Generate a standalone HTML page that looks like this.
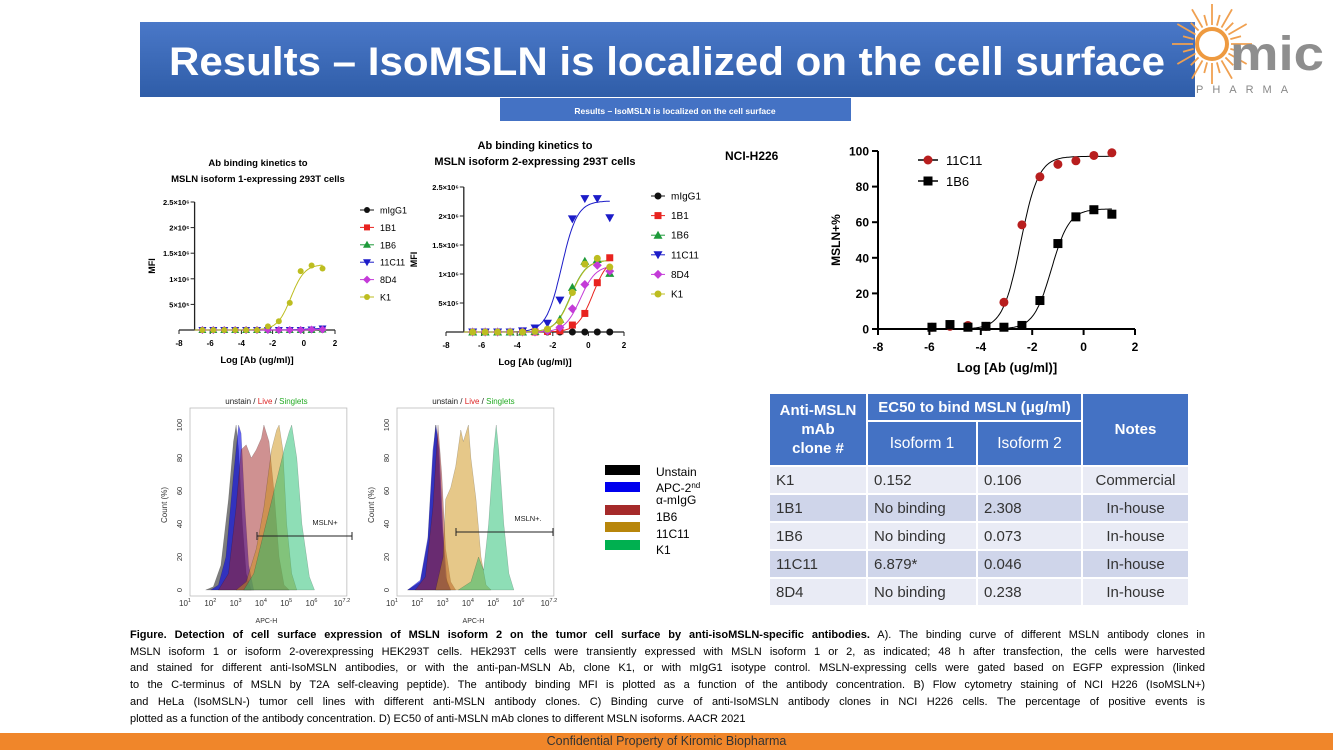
<!DOCTYPE html>
<html><head><meta charset="utf-8">
<style>
body{margin:0;width:1333px;height:750px;overflow:hidden;background:#fff;font-family:"Liberation Sans",sans-serif;position:relative}
#page{position:absolute;left:0;top:0}
.caption{position:absolute;left:130px;top:627px;width:1075px;font-size:11px;line-height:16.7px;color:#000}
.caption div{text-align:justify;text-align-last:justify;white-space:nowrap;overflow:visible}
.caption div.last{text-align-last:left}
table.t{position:absolute;left:768px;top:392px;width:422px;height:215px;border-collapse:collapse;font-size:15px;color:#333}
table.t td{border:2px solid #fff;padding:0 6px}
table.t .h{background:#4472C4;color:#fff;font-weight:bold;text-align:center;font-size:15px}
table.t .h2{background:#4472C4;color:#fff;text-align:center;font-size:15.5px}
table.t tr.a td{background:#E9EBF5}
table.t tr.b td{background:#CFD5EA}
.footer{position:absolute;left:0;top:733px;width:1333px;height:17px;background:#F0862A;text-align:center;font-size:12.5px;line-height:17px;color:#333}
</style></head><body>
<svg id="page" width="1333" height="750" xmlns="http://www.w3.org/2000/svg" font-family="Liberation Sans, sans-serif">
  <defs><linearGradient id="bg" x1="0" x2="0" y1="0" y2="1"><stop offset="0" stop-color="#4A78C8"/><stop offset="1" stop-color="#2F5DA8"/></linearGradient></defs>
  <rect x="140" y="22" width="1055" height="75" fill="url(#bg)"/>
  <text x="667" y="75" text-anchor="middle" font-size="40" font-weight="bold" fill="#fff" textLength="996" lengthAdjust="spacingAndGlyphs">Results – IsoMSLN is localized on the cell surface</text>
  <g>
    <g id="sun" stroke="#F0A050" stroke-width="1.8"></g>
    <circle cx="1212" cy="44" r="15" fill="none" stroke="#EE9A40" stroke-width="4"/>
    <text x="1230" y="70" font-size="48" font-weight="bold" fill="#8E8E8E" textLength="94" lengthAdjust="spacingAndGlyphs">mic</text>
    <text x="1196" y="93" font-size="11" fill="#888" letter-spacing="9">PHARMA</text>
  </g>
  <rect x="500" y="98" width="351" height="23" fill="#4472C4"/>
  <text x="675" y="114" text-anchor="middle" font-size="8.5" font-weight="bold" fill="#fff">Results – IsoMSLN is localized on the cell surface</text>

  <g id="chartA1"></g>
  <g id="chartA2"></g>
  <g id="chartC"></g>
  <g id="histo"></g>
</svg>

<table class="t">
<tr style="height:28px"><td class="h" rowspan="2" style="width:84px;line-height:19px">Anti-MSLN<br>mAb<br>clone #</td><td class="h" colspan="2">EC50 to bind MSLN (μg/ml)</td><td class="h" rowspan="2">Notes</td></tr>
<tr style="height:45px"><td class="h2" style="width:96px">Isoform 1</td><td class="h2" style="width:91px">Isoform 2</td></tr>
<tr class="a"><td>K1</td><td>0.152</td><td>0.106</td><td style="text-align:center">Commercial</td></tr>
<tr class="b"><td>1B1</td><td>No binding</td><td>2.308</td><td style="text-align:center">In-house</td></tr>
<tr class="a"><td>1B6</td><td>No binding</td><td>0.073</td><td style="text-align:center">In-house</td></tr>
<tr class="b"><td>11C11</td><td>6.879*</td><td>0.046</td><td style="text-align:center">In-house</td></tr>
<tr class="a"><td>8D4</td><td>No binding</td><td>0.238</td><td style="text-align:center">In-house</td></tr>
</table>

<div class="caption">
<div><b>Figure. Detection of cell surface expression of MSLN isoform 2 on the tumor cell surface by anti-isoMSLN-specific antibodies.</b> A). The binding curve of different MSLN antibody clones in</div>
<div>MSLN isoform 1 or isoform 2-overexpressing HEK293T cells. HEk293T cells were transiently expressed with MSLN isoform 1 or 2, as indicated; 48 h after transfection, the cells were harvested</div>
<div>and stained for different anti-IsoMSLN antibodies, or with the anti-pan-MSLN Ab, clone K1, or with mIgG1 isotype control. MSLN-expressing cells were gated based on EGFP expression (linked</div>
<div>to the C-terminus of MSLN by T2A self-cleaving peptide). The antibody binding MFI is plotted as a function of the antibody concentration. B) Flow cytometry staining of NCI H226 (IsoMSLN+)</div>
<div>and HeLa (IsoMSLN-) tumor cell lines with different anti-MSLN antibody clones. C) Binding curve of anti-IsoMSLN antibody clones in NCI H226 cells. The percentage of positive events is</div>
<div class="last">plotted as a function of the antibody concentration. D) EC50 of anti-MSLN mAb clones to different MSLN isoforms. AACR 2021</div>
</div>
<div class="footer">Confidential Property of Kiromic Biopharma</div>

<script>
// ---------- data ----------
const seriesNames = ["mIgG1","1B1","1B6","11C11","8D4","K1"];
const xLog = [-6.5,-5.8,-5.1,-4.4,-3.7,-3.0,-2.3,-1.6,-0.9,-0.2,0.5,1.2];
// isoform 1 MFI values (x1e6)
const iso1_mIgG1 = [0,0,0,0,0,0,0,0,0,0,0,0];
const iso1_1B1   = [0,0,0,0,0,0,0,0,0,0,0,0.01];
const iso1_1B6   = [0,0,0,0,0,0,0,0,0,0,0,0.01];
const iso1_11C11 = [0,0,0,0,0,0,0,0,0,0,0.01,0.03];
const iso1_8D4   = [0,0,0,0,0,0,0,0,0,0,0.01,0.01];
const iso1_K1    = [0,0,0,0,0,0,0.07,0.17,0.53,1.15,1.26,1.2];
// isoform 2 MFI values (x1e6)
const iso2_mIgG1 = [0,0,0,0,0,0,0,0,0,0,0,0];
const iso2_1B1   = [0,0,0,0,0,0,0.01,0.02,0.12,0.32,0.85,1.28];
const iso2_1B6   = [0,0,0,0,0,0.01,0.05,0.22,0.77,1.22,1.25,1.01];
const iso2_11C11 = [0,0,0,0,0.02,0.07,0.15,0.55,1.95,2.3,2.3,1.97];
const iso2_8D4   = [0,0,0,0,0,0,0.02,0.08,0.4,0.82,1.15,1.05];
const iso2_K1    = [0,0,0,0,0,0.01,0.05,0.18,0.68,1.17,1.27,1.12];
// fitted curve params: top, logEC50
const iso1_top = [0,0.01,0.01,0.03,0.01,1.28];
const iso1_ec50 = [0,0,0,0,0,-0.82];
const iso2_top = [0,1.3,1.24,2.26,1.15,1.24];
const iso2_ec50 = [0,0.25,-1.0,-1.5,-0.45,-0.98];
// NCI-H226
const cNames = ["11C11","1B6"];
const cX = [-5.9,-5.2,-4.5,-3.8,-3.1,-2.4,-1.7,-1.0,-0.3,0.4,1.1];
const c11C11 = [1,1.5,2,1.5,15,58.5,85.5,92.5,94.5,97.5,99];
const c1B6 = [1,2.5,1,1.5,1,2,16,48,63,67,64.5];
const cTop = [97,67.5];
const cEc50 = [-2.45,-1.25];
const yTicksMFI = ["5×10⁵","1×10⁶","1.5×10⁶","2×10⁶","2.5×10⁶"];
const xTicks = [-8,-6,-4,-2,0,2];
const cYTicks = [0,20,40,60,80,100];
// flow histograms [log10 x, % count]
const h1_unstain=[[1.7,0],[2.0,2],[2.3,15],[2.6,55],[2.8,90],[2.9,100],[3.0,85],[3.15,40],[3.3,10],[3.5,0]];
const h1_blue=[[1.9,0],[2.2,3],[2.5,20],[2.8,70],[3.0,100],[3.1,95],[3.25,50],[3.4,15],[3.6,0]];
const h1_1B6=[[2.2,0],[2.6,10],[2.9,50],[3.1,85],[3.3,88],[3.5,80],[3.7,85],[3.9,92],[4.0,100],[4.2,90],[4.4,60],[4.6,20],[4.8,3],[5.0,0]];
const h1_11C11=[[2.9,0],[3.3,5],[3.7,25],[4.0,50],[4.3,85],[4.5,97],[4.6,100],[4.75,85],[4.9,40],[5.1,10],[5.3,0]];
const h1_K1=[[3.2,0],[3.6,10],[4.0,35],[4.4,60],[4.8,85],[5.0,96],[5.1,100],[5.3,80],[5.5,40],[5.8,8],[6.0,0]];
const h2_unstain=[[1.5,0],[2.0,5],[2.3,30],[2.5,80],[2.6,100],[2.7,90],[2.85,40],[3.0,8],[3.2,0]];
const h2_blue=[[1.5,0],[2.0,6],[2.3,32],[2.5,85],[2.62,100],[2.75,85],[2.9,35],[3.05,5],[3.2,0]];
const h2_1B6=[[1.8,0],[2.2,8],[2.5,50],[2.7,100],[2.85,70],[3.0,25],[3.2,5],[3.4,0]];
const h2_11C11=[[2.6,0],[2.9,20],[3.0,55],[3.2,62],[3.4,75],[3.6,97],[3.7,90],[3.9,100],[4.0,80],[4.2,55],[4.4,20],[4.6,3],[4.8,0]];
const h2_K1=[[3.5,0],[4.0,5],[4.3,20],[4.5,12],[4.7,40],[4.9,85],[5.0,100],[5.1,85],[5.3,40],[5.5,10],[5.7,0]];
const hLegend=["Unstain","APC-2nd α-mIgG","1B6","11C11","K1"];

// ---------- helpers ----------
const NS="http://www.w3.org/2000/svg";
function el(tag,attrs,parent,txt){const e=document.createElementNS(NS,tag);for(const k in attrs)e.setAttribute(k,attrs[k]);if(txt!==undefined)e.textContent=txt;parent.appendChild(e);return e;}
const colors={"mIgG1":"#111","1B1":"#E8231F","1B6":"#1E9A3A","11C11":"#1C1CC8","8D4":"#C43BD8","K1":"#BDBD20"};
function marker(g,name,cx,cy,r){
  const c=colors[name];let m;
  if(name==="1B1") m=el("rect",{x:cx-r,y:cy-r,width:2*r,height:2*r,fill:c},g);
  else if(name==="1B6") m=el("polygon",{points:`${cx},${cy-r-1} ${cx-r-1},${cy+r} ${cx+r+1},${cy+r}`,fill:c},g);
  else if(name==="11C11") m=el("polygon",{points:`${cx},${cy+r+1} ${cx-r-1},${cy-r} ${cx+r+1},${cy-r}`,fill:c},g);
  else if(name==="8D4") m=el("polygon",{points:`${cx},${cy-r-1} ${cx+r+1},${cy} ${cx},${cy+r+1} ${cx-r-1},${cy}`,fill:c},g);
  else m=el("circle",{cx:cx,cy:cy,r:r,fill:c},g);
  
  
}
function hill(x,top,ec,h){return top/(1+Math.pow(10,(ec-x)*h));}

function bindingChart(gid,o,vals,tops,ecs){
  const g=document.getElementById(gid);
  const X=v=>o.xl+(v+8)*(o.xr-o.xl)/10, Y=v=>o.y0-v*o.py;
  const yAxX=X(o.yAxisAt);
  el("line",{x1:X(-8),x2:X(2),y1:o.y0,y2:o.y0,stroke:"#222","stroke-width":1.3},g);
  el("line",{x1:yAxX,x2:yAxX,y1:o.y0,y2:Y(2.5),stroke:"#222","stroke-width":1.3},g);
  xTicks.forEach(t=>{el("line",{x1:X(t),x2:X(t),y1:o.y0,y2:o.y0+4,stroke:"#222"},g);
    const tl=el("text",{x:X(t),y:o.y0+16,"text-anchor":"middle","font-size":8,"font-weight":"bold"},g,t);
    });
  yTicksMFI.forEach((t,i)=>{const v=(i+1)*0.5;el("line",{x1:yAxX-4,x2:yAxX,y1:Y(v),y2:Y(v),stroke:"#222"},g);
    const tl=el("text",{x:yAxX-5,y:Y(v)+3,"text-anchor":"end","font-size":7.5,"font-weight":"bold"},g,t);
    });
  seriesNames.forEach((n,si)=>{
    let d="";for(let x=-7;x<=1.21;x+=0.05){d+=(d?"L":"M")+X(x).toFixed(1)+","+Y(hill(x,tops[si],ecs[si],1)).toFixed(1);}
    const p=el("path",{d:d,fill:"none",stroke:n==="mIgG1"?"#111":colors[n],"stroke-width":1},g);
    
  });
  seriesNames.forEach((n,si)=>{vals[si].forEach((v,i)=>marker(g,n,X(xLog[i]),Y(v),o.r));});
  o.title.forEach((t,i)=>{const tt=el("text",{x:o.tx,y:o.ty+i*16,"text-anchor":"middle","font-size":o.tfs,"font-weight":"bold"},g,t);
    });
  const yt=el("text",{x:o.ylx,y:(o.y0+Y(2.5))/2,"text-anchor":"middle","font-size":9,"font-weight":"bold",transform:`rotate(-90 ${o.ylx} ${(o.y0+Y(2.5))/2})`},g,"MFI");
  
  const xt=el("text",{x:(X(-8)+X(2))/2,y:o.y0+33,"text-anchor":"middle","font-size":9.5,"font-weight":"bold"},g,"Log [Ab (ug/ml)]");
  
  seriesNames.forEach((n,si)=>{const ly=o.ly+si*o.lsp;
    const lg=el("g",{},g);
    el("line",{x1:o.lx-7,x2:o.lx+7,y1:ly,y2:ly,stroke:n==="mIgG1"?"#111":colors[n]},lg);
    marker(lg,n,o.lx,ly,o.r);
    el("text",{x:o.lx+13,y:ly+3.5,"font-size":o.lfs},lg,n);});
}
bindingChart("chartA1",{xl:179,xr:335,y0:330,py:51.2,yAxisAt:-7,r:3,title:["Ab binding kinetics to","MSLN isoform 1-expressing 293T cells"],tx:258,ty:166,tfs:9.5,ylx:155,lx:367,ly:210,lsp:17.4,lfs:9},
  [iso1_mIgG1,iso1_1B1,iso1_1B6,iso1_11C11,iso1_8D4,iso1_K1],iso1_top,iso1_ec50);
bindingChart("chartA2",{xl:446,xr:624,y0:332,py:58,yAxisAt:-7,r:3.5,title:["Ab binding kinetics to","MSLN isoform 2-expressing 293T cells"],tx:535,ty:149,tfs:11,ylx:417,lx:658,ly:196,lsp:19.6,lfs:10},
  [iso2_mIgG1,iso2_1B1,iso2_1B6,iso2_11C11,iso2_8D4,iso2_K1],iso2_top,iso2_ec50);

// chart C
(function(){
  const g=document.getElementById("chartC");
  const X=v=>878+(v+8)*25.7, Y=v=>329-v*1.78;
  el("line",{x1:X(-8),x2:X(2),y1:Y(0),y2:Y(0),stroke:"#000","stroke-width":2},g);
  el("line",{x1:X(-8),x2:X(-8),y1:Y(0),y2:Y(100),stroke:"#000","stroke-width":2},g);
  xTicks.forEach(t=>{el("line",{x1:X(t),x2:X(t),y1:Y(0),y2:Y(0)+6,stroke:"#000","stroke-width":2},g);
    const tl=el("text",{x:X(t),y:351,"text-anchor":"middle","font-size":12,"font-weight":"bold"},g,t);
    });
  cYTicks.forEach(t=>{el("line",{x1:X(-8)-6,x2:X(-8),y1:Y(t),y2:Y(t),stroke:"#000","stroke-width":2},g);
    const tl=el("text",{x:X(-8)-9,y:Y(t)+4.5,"text-anchor":"end","font-size":12,"font-weight":"bold"},g,t);
    });
  const cc=["#B81E1E","#000"];
  [c11C11,c1B6].forEach((arr,si)=>{
    let d="";for(let x=-5.9;x<=1.11;x+=0.05){d+=(d?"L":"M")+X(x).toFixed(1)+","+Y(hill(x,cTop[si],cEc50[si],1.25)).toFixed(1);}
    const p=el("path",{d:d,fill:"none",stroke:"#000","stroke-width":1},g);
    
    arr.forEach((v,i)=>{let m;
      if(si===0) m=el("circle",{cx:X(cX[i]),cy:Y(v),r:4.5,fill:cc[0]},g);
      else m=el("rect",{x:X(cX[i])-4.5,y:Y(v)-4.5,width:9,height:9,fill:"#000"},g);
      });
  });
  cNames.forEach((n,si)=>{const ly=160+si*21;
    const lg=el("g",{},g);
    el("line",{x1:918,x2:938,y1:ly,y2:ly,stroke:"#000","stroke-width":1.5},lg);
    if(si===0) el("circle",{cx:928,cy:ly,r:4.5,fill:cc[0]},lg); else el("rect",{x:923.5,y:ly-4.5,width:9,height:9,fill:"#000"},lg);
    el("text",{x:946,y:ly+5,"font-size":13},lg,n);});
  const yt=el("text",{x:840,y:240,"text-anchor":"middle","font-size":12,"font-weight":"bold",transform:"rotate(-90 840 240)"},g,"MSLN+%");
  
  const xt=el("text",{x:1007,y:372,"text-anchor":"middle","font-size":13,"font-weight":"bold"},g,"Log [Ab (ug/ml)]");
  
  const ct=el("text",{x:725,y:160,"font-size":12,"font-weight":"bold"},g,"NCI-H226");
  
})();

// histograms
(function(){
  const g=document.getElementById("histo");
  const fills=["rgba(20,20,20,0.55)","rgba(0,0,235,0.6)","rgba(160,35,35,0.5)","rgba(205,145,20,0.5)","rgba(30,190,110,0.5)"];
  const panels=[{x0:188,sets:[h1_unstain,h1_blue,h1_1B6,h1_11C11,h1_K1],gate:[257,352,536],gl:"MSLN+",glx:325},
                {x0:395,sets:[h2_unstain,h2_blue,h2_1B6,h2_11C11,h2_K1],gate:[456,553,532],gl:"MSLN+.",glx:528}];
  panels.forEach((p,pi)=>{
    const X=l=>p.x0+(l-1)*25.3, Y=v=>590-v*1.65;
    const pg=el("g",{},g);
    el("rect",{x:X(1)+2,y:408,width:X(7.2)-X(1),height:188,fill:"none",stroke:"#bbb","stroke-width":0.8},pg);
    p.sets.forEach((s,si)=>{let d="M"+X(s[0][0])+","+Y(0);s.forEach(q=>d+="L"+X(q[0]).toFixed(1)+","+Y(q[1]).toFixed(1));d+="Z";
      const h=el("path",{d:d,fill:fills[si],stroke:"rgba(0,0,0,0.25)","stroke-width":0.5},pg);
      });
    [0,20,40,60,80,100].forEach(t=>{const tl=el("text",{x:X(1)-6,y:Y(t),"text-anchor":"middle","font-size":7.5,fill:"#333",transform:`rotate(-90 ${X(1)-6} ${Y(t)})`},pg,t);
      });
    ["1","2","3","4","5","6","7.2"].forEach((e,i)=>{const lx=X(i<6?i+1:7.2);
      const tl=el("text",{x:lx-3,y:606,"text-anchor":"middle","font-size":8,fill:"#333"},pg);
      
      tl.textContent="10";el("tspan",{dy:-4,"font-size":5.5},tl,e);});
    el("text",{x:X(1)-21,y:505,"text-anchor":"middle","font-size":8,fill:"#333",transform:`rotate(-90 ${X(1)-21} 505)`},pg,"Count (%)");
    el("text",{x:(X(1)+X(7.2))/2,y:623,"text-anchor":"middle","font-size":7,fill:"#333"},pg,"APC-H");
    const tt=el("text",{x:(X(1)+X(7.2))/2,y:404,"text-anchor":"middle","font-size":8,fill:"#222"},pg);
    
    el("tspan",{},tt,"unstain / ");el("tspan",{fill:"#D22"},tt,"Live");el("tspan",{},tt," / ");el("tspan",{fill:"#2A2"},tt,"Singlets");
    el("line",{x1:p.gate[0],x2:p.gate[1],y1:p.gate[2],y2:p.gate[2],stroke:"#222","stroke-width":1},pg);
    el("line",{x1:p.gate[0],x2:p.gate[0],y1:p.gate[2]-4,y2:p.gate[2]+4,stroke:"#222"},pg);
    el("line",{x1:p.gate[1],x2:p.gate[1],y1:p.gate[2]-4,y2:p.gate[2]+4,stroke:"#222"},pg);
    const gl=el("text",{x:p.glx,y:p.gate[2]-11,"text-anchor":"middle","font-size":7.5,fill:"#222"},pg,p.gl);
    
  });
  const lc=["#000","#0000EE","#A52A2A","#B8860B","#00B050"];
  const ly=[470,487,510,527,545];
  const lg=el("g",{},g);
  lc.forEach((c,i)=>el("rect",{x:605,y:ly[i]-5,width:35,height:10,fill:c},lg));
  el("text",{x:656,y:476,"font-size":12},lg,"Unstain");
  const t2=el("text",{x:656,y:492,"font-size":12},lg,"APC-2");el("tspan",{dy:-4,"font-size":8},t2,"nd");
  el("text",{x:656,y:504,"font-size":12},lg,"α-mIgG");
  el("text",{x:656,y:521,"font-size":12},lg,"1B6");
  el("text",{x:656,y:538,"font-size":12},lg,"11C11");
  el("text",{x:656,y:554,"font-size":12},lg,"K1");
  // sun rays
  const sun=document.getElementById("sun");
  for(let a=0;a<360;a+=15){const r=a*Math.PI/180,L=(a%30===0)?40:30;
    el("line",{x1:1212+19*Math.cos(r),y1:44+19*Math.sin(r),x2:1212+L*Math.cos(r),y2:44+L*Math.sin(r)},sun);}
})();
</script>
</body></html>
